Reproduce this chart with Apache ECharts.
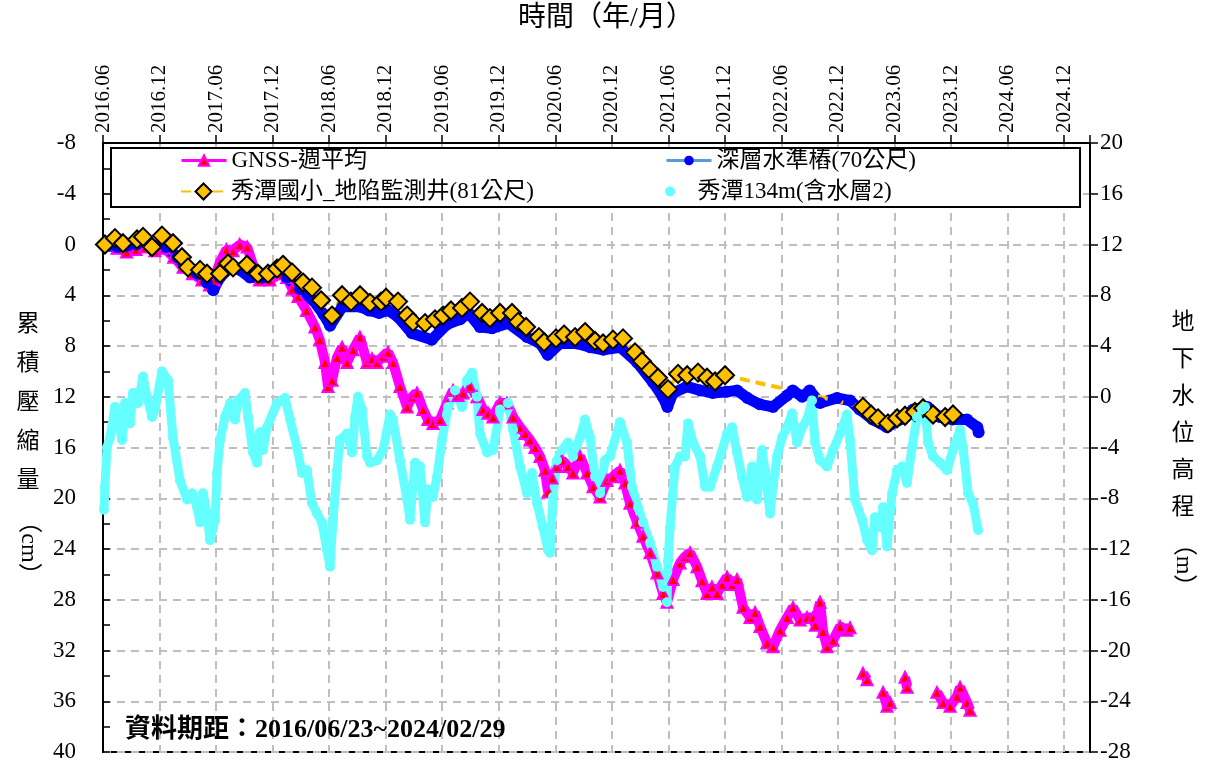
<!DOCTYPE html>
<html><head><meta charset="utf-8">
<script src="https://cdn.jsdelivr.net/npm/echarts@6/dist/echarts.min.js"></script>
<style>html,body{margin:0;padding:0;background:#fff}#c{width:1206px;height:765px}</style>
</head><body><div id="c"></div>
<script>
// x values: months elapsed since 2016-06-01
const xTickLabels = ['2016.06','2016.12','2017.06','2017.12','2018.06','2018.12','2019.06','2019.12','2020.06','2020.12','2021.06','2021.12','2022.06','2022.12','2023.06','2023.12','2024.06','2024.12'];

// GNSS weekly mean, cumulative compaction (cm); null = no data
const gnss = [[0.73,0.0],[1.5,0.3],[2.5,0.6],[3.5,0.4],[4.5,0.2],[5.5,0.5],[6.5,0.3],[7.5,1.0],[8.5,1.8],[9.5,2.3],[10.5,2.8],[11.3,3.2],[11.8,2.8],[12.4,1.4],[13.1,0.4],[13.8,0.5],[14.5,0.0],[15.3,0.2],[16.0,1.8],[16.6,2.8],[17.7,2.8],[18.8,2.3],[19.5,2.6],[20.1,3.5],[20.7,4.1],[21.6,5.2],[22.5,6.5],[23.0,7.5],[23.56,9.3],[23.88,11.2],[24.30,10.7],[24.84,8.9],[25.37,8.1],[25.90,9.3],[26.53,8.3],[27.27,7.3],[28.02,9.3],[28.55,9.0],[29.08,9.3],[29.72,8.8],[30.25,8.5],[30.78,9.3],[31.52,11.2],[32.27,12.8],[32.80,12.0],[33.33,11.7],[33.96,13.0],[34.49,13.8],[35.02,14.1],[35.77,13.8],[36.51,12.5],[37.15,11.5],[37.68,11.9],[38.21,11.7],[38.95,11.2],[39.69,12.0],[40.33,13.0],[40.86,13.3],[41.39,13.6],[42.14,12.5],[42.88,12.5],[43.52,13.6],[44.26,14.4],[44.79,14.9],[45.32,15.4],[45.85,16.0],[46.38,16.7],[46.91,17.8],[47.23,19.5],[47.65,18.4],[48.18,17.5],[48.72,17.0],[49.35,17.5],[49.88,18.0],[50.63,16.7],[51.37,18.0],[52.01,19.1],[52.75,19.9],[53.49,18.6],[54.13,18.3],[54.87,17.8],[55.40,18.8],[55.93,20.4],[56.68,21.9],[57.31,23.0],[58.06,24.3],[58.80,25.9],[59.44,27.5],[59.86,28.2],[60.50,26.4],[61.24,25.1],[61.77,24.6],[62.30,24.3],[63.05,25.4],[63.58,26.5],[64.11,27.5],[64.63,27.0],[65.17,27.5],[65.70,26.8],[66.23,26.2],[66.76,26.8],[67.29,26.4],[67.93,28.6],[68.67,29.4],[69.20,29.0],[69.73,30.1],[70.47,31.4],[71.11,31.7],[71.85,30.4],[72.60,29.4],[73.23,28.6],[73.98,29.6],[74.72,29.4],[75.36,29.4],[75.6,30.0],[76.10,28.2],[76.42,30.5],[76.84,31.7],[77.48,31.2],[78.22,30.1],[78.96,30.4],[79.28,30.2],[80.0,null],[80.66,33.8],[81.09,34.3],[82.0,null],[82.79,35.3],[83.21,36.4],[83.53,36.1],[84.3,null],[85.12,34.1],[85.33,34.9],[87.0,null],[88.51,35.3],[89.15,36.1],[89.90,36.4],[90.64,35.6],[90.96,34.9],[91.70,36.1],[92.02,36.7]];

// 深層水準樁(70公尺), cumulative compaction (cm)
const benchmark = [[0.5,0.1],[1.5,0.2],[2.5,0.1],[3.5,0.0],[4.9,0.0],[6.7,0.2],[7.9,1.0],[8.9,1.8],[10.0,2.3],[11.0,3.0],[11.7,3.6],[12.4,2.6],[13.5,1.8],[14.5,2.0],[15.6,2.6],[17.0,2.6],[18.5,2.0],[19.5,2.6],[20.9,3.5],[22.3,4.4],[23.4,5.5],[24.1,6.4],[25.4,4.9],[27.3,4.9],[28.2,5.2],[29.3,5.4],[30.3,5.2],[31.3,5.7],[32.8,7.0],[34.9,7.5],[36.5,6.3],[37.9,5.9],[38.8,5.4],[40.0,6.5],[41.3,6.6],[43.0,6.2],[45.0,7.3],[46.4,7.8],[47.2,8.7],[48.5,7.8],[50.3,7.8],[51.7,8.1],[53.1,8.3],[54.9,8.1],[56.7,9.3],[58.4,10.9],[59.4,12.0],[59.9,12.8],[60.5,11.7],[62.0,11.2],[63.4,11.5],[64.7,11.7],[66.2,11.6],[67.3,11.5],[68.4,12.1],[69.7,12.6],[71.1,12.8],[72.6,11.9],[73.2,11.5],[74.2,12.0],[75.0,11.5],[76.1,12.5],[77.9,12.1],[79.3,12.3],[80.3,13.0],[81.7,13.8],[83.2,14.4],[84.6,13.8],[86.0,13.0],[87.5,12.8],[88.8,13.6],[90.2,13.8],[91.7,13.8],[92.8,14.4],[92.93,14.8]];

// 秀潭國小_地陷監測井(81公尺), cumulative compaction (cm)
const school = [[0.21,0.0],[1.27,-0.5],[2.12,-0.1],[3.61,-0.4],[4.25,-0.6],[5.20,0.2],[6.26,-0.7],[7.43,-0.1],[8.38,1.0],[9.02,1.8],[10.30,2.0],[11.04,2.3],[12.42,2.3],[13.27,1.5],[13.80,1.8],[15.28,1.6],[16.45,2.3],[17.51,2.3],[18.47,1.9],[19.10,1.6],[20.06,2.2],[21.23,3.0],[22.18,3.4],[23.14,4.4],[24.30,5.6],[25.37,4.0],[26.32,4.5],[27.28,4.0],[28.34,4.6],[29.51,4.5],[30.04,4.2],[31.31,4.5],[32.27,5.6],[32.90,6.1],[34.18,6.2],[35.24,5.9],[36.09,5.6],[36.93,5.2],[38.10,5.0],[38.95,4.5],[40.23,5.4],[41.07,5.8],[42.14,5.4],[43.41,5.4],[44.05,6.1],[44.90,6.5],[46.27,7.3],[46.81,7.7],[48.08,7.4],[48.93,7.1],[50.10,7.3],[51.16,6.9],[52.22,7.6],[53.07,7.8],[54.13,7.5],[55.19,7.4],[56.46,8.5],[57.21,9.2],[58.06,9.9],[58.90,10.5],[59.97,11.4],[61.03,10.2],[62.00,10.3],[63.15,10.1],[64.11,10.5],[64.96,10.8],[66.02,10.3],[80.66,12.8],[81.51,13.4],[82.25,13.7],[83.31,14.1],[84.27,13.7],[85.12,13.5],[86.18,13.2],[87.03,12.9],[88.09,13.4],[89.37,13.6],[90.21,13.4]];

// 秀潭134m(含水層2), groundwater level (m)
const well134 = [[0.1,-8.9],[0.21,-7.1],[0.42,-4.0],[0.74,-3.2],[1.27,-0.8],[1.59,-1.6],[2.02,-3.4],[2.33,-0.5],[2.87,-2.1],[3.18,0.3],[3.71,-0.5],[4.25,1.6],[4.67,0.0],[5.20,-1.6],[5.52,-1.0],[6.26,2.0],[6.90,1.3],[7.43,-3.2],[8.17,-6.6],[8.92,-8.1],[9.45,-7.6],[9.98,-8.7],[10.30,-9.9],[10.61,-7.6],[11.04,-9.2],[11.36,-11.3],[11.89,-9.7],[12.10,-6.0],[12.42,-3.4],[12.95,-1.6],[13.48,-0.5],[14.01,-1.8],[14.33,-0.3],[15.07,0.3],[15.39,-1.6],[15.92,-4.4],[16.34,-5.2],[16.66,-2.8],[16.98,-4.2],[17.41,-2.4],[18.47,-0.5],[19.32,-0.1],[19.85,-1.8],[20.59,-4.0],[21.12,-6.0],[21.65,-5.8],[22.18,-8.4],[22.71,-9.2],[23.24,-9.9],[23.77,-12.1],[24.09,-13.4],[24.41,-9.7],[24.84,-5.8],[25.15,-3.4],[25.90,-2.9],[26.43,-4.4],[26.75,-1.6],[27.06,0.0],[27.49,-1.0],[28.02,-4.7],[28.34,-5.2],[29.08,-5.0],[29.72,-4.2],[30.46,-1.4],[30.78,-1.8],[31.52,-5.0],[32.27,-8.1],[32.58,-9.7],[33.12,-5.2],[33.64,-5.5],[34.18,-9.9],[34.49,-7.3],[35.02,-7.9],[35.45,-6.3],[35.98,-3.4],[36.62,-0.8],[37.36,0.5],[38.10,-0.8],[38.63,1.3],[39.16,1.9],[39.69,0.0],[40.01,-2.9],[40.76,-4.4],[41.39,-4.2],[42.14,-1.0],[42.98,-0.5],[43.52,-2.6],[44.26,-5.5],[45.00,-7.6],[45.53,-6.0],[46.06,-8.4],[46.70,-10.3],[47.23,-12.1],[47.44,-12.3],[47.76,-7.9],[48.18,-5.0],[48.72,-4.2],[49.35,-3.6],[49.88,-4.7],[50.63,-3.2],[51.16,-1.8],[51.69,-3.2],[52.22,-6.3],[52.75,-7.6],[53.28,-5.0],[53.81,-4.7],[54.87,-2.0],[55.61,-3.6],[56.14,-7.1],[56.78,-8.7],[57.31,-9.9],[58.06,-11.5],[58.80,-13.4],[59.44,-15.0],[59.86,-16.2],[59.97,-12.9],[60.18,-10.3],[60.71,-5.5],[61.24,-4.7],[61.77,-4.7],[62.09,-2.1],[62.62,-3.6],[63.37,-4.7],[63.90,-7.1],[64.42,-7.1],[65.17,-5.5],[66.23,-2.9],[66.76,-2.4],[67.29,-4.4],[67.82,-6.3],[68.35,-7.9],[68.88,-5.5],[69.41,-8.1],[69.94,-4.2],[70.26,-5.8],[70.79,-9.2],[71.11,-7.1],[71.54,-4.7],[72.07,-3.2],[72.60,-2.4],[73.13,-1.3],[73.66,-3.6],[74.19,-2.4],[74.72,-1.8],[75.25,-0.3],[75.57,-3.6],[76.10,-5.0],[76.84,-5.5],[77.48,-4.2],[78.22,-2.9],[78.96,-1.4],[79.28,-3.4],[79.81,-8.1],[80.56,-9.7],[81.09,-11.3],[81.62,-12.1],[81.93,-9.5],[82.47,-10.3],[82.79,-8.7],[83.21,-11.8],[83.74,-7.6],[84.27,-5.8],[84.80,-5.5],[85.33,-6.8],[85.86,-4.0],[86.39,-1.6],[86.92,-1.0],[87.24,-0.8],[87.56,-3.6],[88.09,-4.7],[88.83,-5.2],[89.58,-5.8],[90.21,-4.2],[90.96,-2.6],[91.27,-4.0],[91.81,-7.6],[92.34,-8.4],[92.87,-10.5]];

const SERIF = "'Liberation Serif','Times New Roman','Noto Sans CJK TC',serif";
const prep = arr => arr.map(p => [p[0], p[1] === null ? '-' : p[1]]);

const chart = echarts.init(document.getElementById('c'), null, {renderer: 'canvas'});
const legendBase = {
  orient: 'vertical', padding: 0, itemWidth: 45, selectedMode: false,
  textStyle: {fontSize: 23, fontFamily: SERIF, color: '#000'}, z: 6
};
chart.setOption({
  animation: false,
  backgroundColor: '#fff',
  grid: {left: 103, top: 143, right: 116, bottom: 13, show: true, borderColor: '#000', borderWidth: 2},
  xAxis: {
    type: 'value', position: 'top', min: 0, max: 104.75, interval: 6,
    axisLine: {show: true, onZero: false, lineStyle: {color: '#000', width: 2}},
    axisTick: {show: true, inside: false, length: 8, lineStyle: {color: '#000', width: 1.5}},
    axisLabel: {
      rotate: -90, margin: 10, fontSize: 21, fontFamily: SERIF, color: '#000',
      formatter: v => (Math.abs(v / 6 - Math.round(v / 6)) < 1e-6 ? (xTickLabels[Math.round(v / 6)] || '') : '')
    },
    splitLine: {show: true, lineStyle: {color: '#BFBFBF', width: 2, type: [8, 6]}}
  },
  yAxis: [{
    type: 'value', inverse: true, min: -8, max: 40, interval: 4, position: 'left',
    axisLine: {show: true, onZero: false, lineStyle: {color: '#000', width: 2}},
    axisTick: {show: true, inside: true, length: 7, lineStyle: {color: '#000', width: 1.5}},
    minorTick: {show: true, splitNumber: 2, length: 7, lineStyle: {color: '#000', width: 1.5}},
    axisLabel: {fontSize: 23, fontFamily: SERIF, color: '#000', margin: 27},
    splitLine: {show: true, lineStyle: {color: '#BFBFBF', width: 2, type: [8, 6]}}
  }, {
    type: 'value', min: -28, max: 20, interval: 4, position: 'right',
    axisLine: {show: true, onZero: false, lineStyle: {color: '#000', width: 2}},
    axisTick: {show: true, inside: false, length: 8, lineStyle: {color: '#000', width: 1.5}},
    axisLabel: {fontSize: 23, fontFamily: SERIF, color: '#000', margin: 10},
    splitLine: {show: false}
  }],
  legend: [
    Object.assign({}, legendBase, {left: 180, top: 149, itemHeight: 13,
      data: [{name: 'GNSS-週平均', lineStyle: {width: 3, color: '#FF00FF'}}]}),
    Object.assign({}, legendBase, {left: 665, top: 149, itemHeight: 12,
      data: [{name: '深層水準樁(70公尺)', lineStyle: {width: 3, color: '#5B9BD5'}}]}),
    Object.assign({}, legendBase, {left: 180, top: 180, itemHeight: 20,
      data: [{name: '秀潭國小_地陷監測井(81公尺)'}]}),
    Object.assign({}, legendBase, {left: 665, top: 180, itemHeight: 10,
      data: [{name: '秀潭134m(含水層2)', icon: 'circle'}]})
  ],
  graphic: [
    {type: 'rect', z: 3, shape: {x: 111, y: 148, width: 969, height: 59},
      style: {fill: '#fff', stroke: '#000', lineWidth: 2}},
    {type: 'text', z: 6, x: 606, y: 19,
      style: {text: '時間（年/月）', font: "28px 'Liberation Serif','Noto Sans CJK TC'", fill: '#000', align: 'center', verticalAlign: 'middle', textAlign: 'center', textVerticalAlign: 'middle'}},
    {type: 'text', z: 6, x: 28, y: 303,
      style: {text: '累\n積\n壓\n縮\n量', lineHeight: 39, font: "23px 'Noto Sans CJK TC'", fill: '#000', align: 'center', verticalAlign: 'top', textAlign: 'center', textVerticalAlign: 'top'}},
    {type: 'text', z: 6, x: 28, y: 548, rotation: -Math.PI / 2,
      style: {text: '（cm）', font: "24px 'Liberation Serif','Noto Sans CJK TC'", fill: '#000', align: 'center', verticalAlign: 'middle', textAlign: 'center', textVerticalAlign: 'middle'}},
    {type: 'text', z: 6, x: 1183, y: 302,
      style: {text: '地\n下\n水\n位\n高\n程', lineHeight: 37, font: "23px 'Noto Sans CJK TC'", fill: '#000', align: 'center', verticalAlign: 'top', textAlign: 'center', textVerticalAlign: 'top'}},
    {type: 'text', z: 6, x: 1183, y: 565, rotation: -Math.PI / 2,
      style: {text: '（m）', font: "24px 'Liberation Serif','Noto Sans CJK TC'", fill: '#000', align: 'center', verticalAlign: 'middle', textAlign: 'center', textVerticalAlign: 'middle'}},
    {type: 'text', z: 6, x: 125, y: 730,
      style: {text: '資料期距：2016/06/23~2024/02/29', font: "bold 26px 'Liberation Serif','Noto Sans CJK TC'", fill: '#000', align: 'left', verticalAlign: 'middle', textAlign: 'left', textVerticalAlign: 'middle'}}
  ],
  series: [
    {name: 'GNSS-週平均', type: 'line', yAxisIndex: 0, data: prep(gnss), connectNulls: false,
      symbol: 'triangle', symbolSize: 11,
      lineStyle: {color: '#FF00FF', width: 10},
      itemStyle: {color: '#FF0000', borderColor: '#FF00FF', borderWidth: 2}},
    {name: '深層水準樁(70公尺)', type: 'line', yAxisIndex: 0, data: prep(benchmark),
      symbol: 'circle', symbolSize: 12,
      lineStyle: {color: '#0000FF', width: 11},
      itemStyle: {color: '#0000FF'}},
    {name: '秀潭國小_地陷監測井(81公尺)', type: 'line', yAxisIndex: 0, data: prep(school),
      symbol: 'diamond', symbolSize: 18,
      lineStyle: {color: '#FFC000', width: 4, type: [10, 6]},
      itemStyle: {color: '#FFC000', borderColor: '#000', borderWidth: 2}},
    {name: '秀潭134m(含水層2)', type: 'line', yAxisIndex: 1, data: prep(well134),
      symbol: 'circle', symbolSize: 10,
      lineStyle: {color: '#66FFFF', width: 9},
      itemStyle: {color: '#66FFFF'}}
  ]
});
</script>
</body></html>
